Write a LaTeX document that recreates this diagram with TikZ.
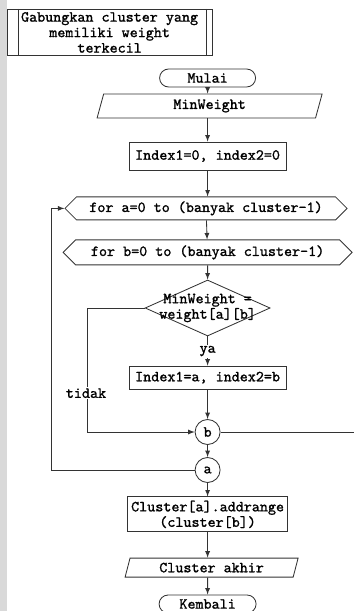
\documentclass[tikz,border=0pt]{standalone}
\usepackage{fontspec}
\setmonofont{Latin Modern Mono}[AutoFakeBold=1.2]
\usetikzlibrary{shapes.geometric,shapes.misc,shapes.symbols}
\colorlet{garis}{black!80}
\tikzset{proses/.style={draw=garis, rectangle, inner sep=1pt, align=center},
         terminal/.style={draw=garis, rounded rectangle, minimum width=2.4cm,
           minimum height=0.45cm, inner sep=0pt},
         io/.style={draw=garis, trapezium, trapezium left angle=63,
           trapezium right angle=117, trapezium stretches body, inner sep=0pt},
         ulang/.style={draw=garis, signal, signal to=east and west,
           signal pointer angle=90, inner sep=0pt},
         sambung/.style={draw=garis, circle, minimum size=0.625cm, inner sep=0pt},
         panah/.style={draw=garis, -latex}}

\begin{document}
\begin{tikzpicture}[font=\ttfamily\bfseries\fontsize{10.9}{11}\selectfont, line width=0.6pt]
  \useasboundingbox (0,0) rectangle (8.85,-15.275);
  \fill[black!15] (0,0) rectangle (0.18,-15.275);

  \node[proses, minimum width=5.12cm, minimum height=1.16cm] (judul) at (2.74,-0.81)
    {Gabungkan cluster yang\\memiliki weight\\terkecil};
  \draw[garis] ([xshift=0.29cm]judul.north west) -- ([xshift=0.29cm]judul.south west)
    ([xshift=-0.16cm]judul.north east) -- ([xshift=-0.16cm]judul.south east);

  \node[terminal] (mulai) at (5.19,-1.95) {Mulai};
  \node[io, minimum width=5.625cm, minimum height=0.6cm] (minw) at (5.24,-2.65) {MinWeight};
  \node[proses, minimum width=3.925cm, minimum height=0.7cm] (idx0) at (5.19,-3.9) {Index1=0, index2=0};
  \node[ulang, minimum width=7.05cm, minimum height=0.575cm] (fora) at (5.15,-5.21)
    {for a=0 to (banyak cluster-1)};
  \node[ulang, minimum width=7.225cm, minimum height=0.625cm] (forb) at (5.19,-6.31)
    {for b=0 to (banyak cluster-1)};
  \node[draw=garis, diamond, minimum width=3.125cm, minimum height=1.4cm, inner sep=0pt,
    label={[align=center]center:MinWeight =\\weight[a][b]}] (cek) at (5.19,-7.7) {};
  \node[proses, minimum width=3.925cm, minimum height=0.575cm] (idxab) at (5.19,-9.44) {Index1=a, index2=b};
  \node[sambung] (b) at (5.19,-10.8) {b};
  \node[sambung] (a) at (5.19,-11.75) {a};
  \node[proses, minimum width=4cm, minimum height=0.875cm] (gabung) at (5.19,-12.86)
    {Cluster[a].addrange\\(cluster[b])};
  \node[io, minimum width=4.325cm, minimum height=0.475cm] (akhir) at (5.29,-14.19) {Cluster akhir};
  \node[terminal, minimum width=2.425cm] (kembali) at (5.19,-15.1) {Kembali};

  \coordinate (kiri) at (2.175,-10.8);
  \coordinate (kanan) at (8.85,-10.8);
  \coordinate (balik) at (1.275,-11.75);

  \draw[panah] (mulai) -- (mulai |- minw.north);
  \draw[panah] (idx0 |- minw.south) -- (idx0);
  \draw[panah] (idx0) -- (idx0 |- fora.north);
  \draw[panah] (fora) -- (forb);
  \draw[panah] (forb) -- (cek);
  \draw[panah] (cek) -- node[fill=white, inner sep=1pt] (ya) {ya} (idxab);
  \draw[panah] (cek.west) -| (kiri) -- (b);
  \node[fill=white, inner sep=1pt] (tidak) at (2.15,-9.83) {tidak};
  \draw[panah] (idxab) -- (b);
  \draw[garis] (b) -- (kanan);
  \draw[panah] (b) -- (a);
  \draw[panah] (a) -- (balik) |- (fora);
  \draw[panah] (a) -- (gabung);
  \draw[panah] (gabung) -- (gabung |- akhir.north);
  \draw[panah] (gabung |- akhir.south) -- (kembali);
\end{tikzpicture}
\end{document}
